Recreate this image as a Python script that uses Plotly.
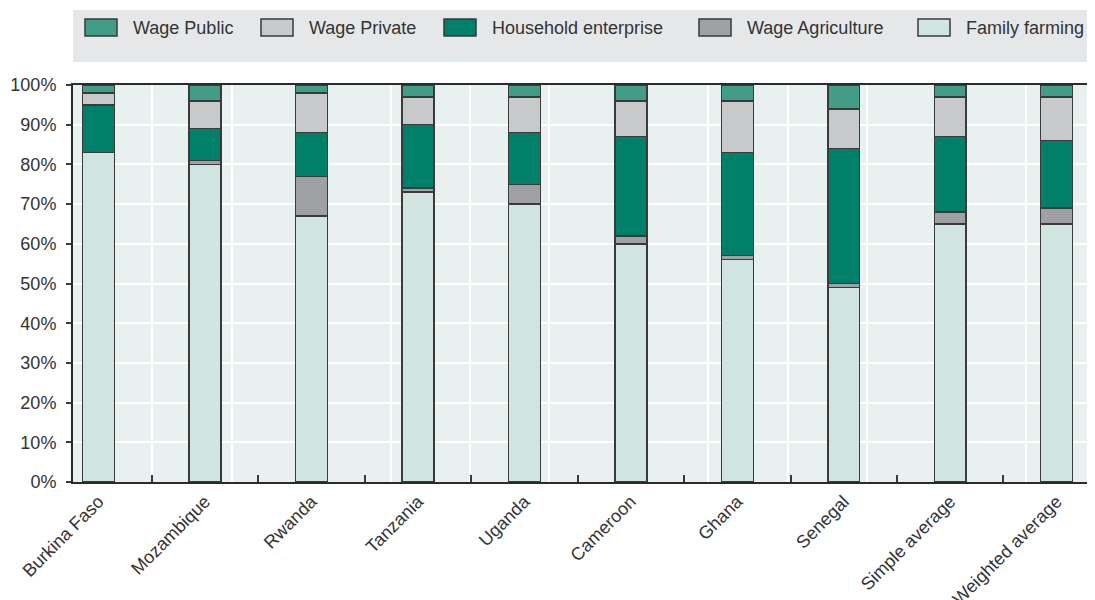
import plotly.graph_objects as go

# ---------------- data ----------------
countries = ["Burkina Faso", "Mozambique", "Rwanda", "Tanzania", "Uganda",
             "Cameroon", "Ghana", "Senegal", "Simple average", "Weighted average"]
family_farming       = [83, 80, 67, 73, 70, 60, 56, 49, 65, 65]
wage_agriculture     = [0, 1, 10, 1, 5, 2, 1, 1, 3, 4]
household_enterprise = [12, 8, 11, 16, 13, 25, 26, 34, 19, 17]
wage_private         = [3, 7, 10, 7, 9, 9, 13, 10, 10, 11]
wage_public          = [2, 4, 2, 3, 3, 4, 4, 6, 3, 3]
y_ticks = [0, 10, 20, 30, 40, 50, 60, 70, 80, 90, 100]
y_tick_labels = [f"{v}%" for v in y_ticks]

# ---------------- style ----------------
FONT = "Liberation Sans, Arial, sans-serif"
FS = 18
TXT = "#333333"
EDGE = "#3a3a3a"
series = [  # stacking order bottom -> top
    ("Family farming", family_farming, "#d1e5e0"),
    ("Wage Agriculture", wage_agriculture, "#a0a1a5"),
    ("Household enterprise", household_enterprise, "#008069"),
    ("Wage Private", wage_private, "#c8c9cb"),
    ("Wage Public", wage_public, "#439c87"),
]

# page has an 8px body margin: figure is drawn 8px right/down in the window
OFF = 8
W, H = 1095 - OFF, 600 - OFF
L, R, T, B = 73 - OFF, 0, 85 - OFF, 118
pw, ph = W - L - R, H - T - B


def px(x):  # window pixel -> paper x
    return (x - OFF - L) / pw


def py(y):  # window pixel -> paper y
    return (H - B - (y - OFF)) / ph


fig = go.Figure()
for name, vals, col in series:
    fig.add_trace(go.Bar(
        x=countries, y=vals, name=name, width=0.30,
        marker=dict(color=col, line=dict(color=EDGE, width=1.5)),
        showlegend=False,
    ))
# carrier for the vertical background grid axis
fig.add_trace(go.Scatter(x=[None], y=[None], xaxis="x2", yaxis="y",
                         showlegend=False, hoverinfo="skip"))

# ---------------- manual legend ----------------
shapes = [dict(type="rect", xref="paper", yref="paper",
               x0=px(73), x1=px(1095), y0=py(62), y1=py(10),
               fillcolor="#e6e7e9", line=dict(width=0), layer="below")]
annotations = []
legend_x = [85, 261, 444, 699, 918]
for (name, vals, col), sx in zip(series[::-1], legend_x):
    shapes.append(dict(type="rect", xref="paper", yref="paper",
                       x0=px(sx), x1=px(sx + 32), y0=py(36), y1=py(19),
                       fillcolor=col, line=dict(color=EDGE, width=1.5)))
    annotations.append(dict(xref="paper", yref="paper", x=px(sx + 46), y=py(28),
                            text=name, showarrow=False, xanchor="left",
                            yanchor="middle",
                            font=dict(family=FONT, size=FS, color=TXT)))

fig.update_layout(
    width=W, height=H,
    margin=dict(l=L, r=R, t=T, b=B, pad=0, autoexpand=False),
    barmode="stack",
    paper_bgcolor="white",
    plot_bgcolor="#e8f1ef",
    font=dict(family=FONT, size=FS, color=TXT),
    shapes=shapes,
    annotations=annotations,
    xaxis=dict(
        type="category", range=[-0.24, 9.36], automargin=False,
        tickson="boundaries", ticks="inside", ticklen=7, tickwidth=1.5,
        tickcolor=EDGE, showgrid=False,
        showline=True, linecolor="#2b2b2b", linewidth=2, mirror=True,
        tickangle=-45, tickfont=dict(family=FONT, size=FS, color=TXT),
        zeroline=False,
    ),
    xaxis2=dict(
        overlaying="x", side="bottom", range=[0, 12.87], tick0=0, dtick=1,
        automargin=False,
        showgrid=True, gridcolor="white", gridwidth=1.5,
        showticklabels=False, ticks="", showline=False, zeroline=False,
    ),
    yaxis=dict(
        range=[0, 100], tickmode="array", tickvals=y_ticks,
        ticktext=y_tick_labels, automargin=False,
        showgrid=True, gridcolor="white", gridwidth=1.5,
        ticks="outside", ticklen=5, tickwidth=1.5, tickcolor=EDGE,
        ticklabelstandoff=6,
        showline=True, linecolor="#2b2b2b", linewidth=2,
        zeroline=False, tickfont=dict(family=FONT, size=FS, color=TXT),
    ),
)

fig.write_html("out.html")
